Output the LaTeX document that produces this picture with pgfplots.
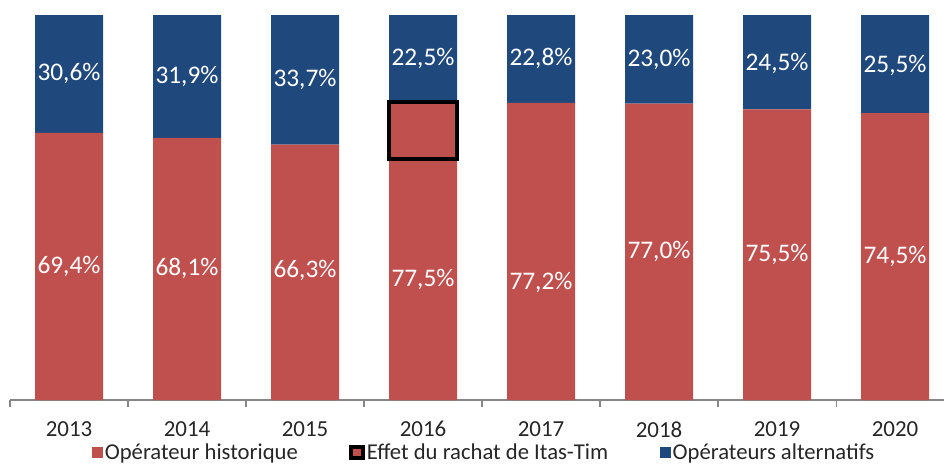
\documentclass[border=0pt]{standalone}
\usepackage{fontspec}
\setmainfont{Carlito}
\usepackage{pgfplots}
\pgfplotsset{compat=1.18}
\definecolor{cred}{RGB}{192,80,77}
\definecolor{cblue}{RGB}{31,73,125}
\definecolor{caxis}{RGB}{134,134,134}
\pgfplotsset{
  myleg/.style={legend image code/.code={\path[##1] (0pt,-4.1pt) rectangle (8.25pt,4.1pt);}},
  myleggb/.style={legend image code/.code={\path[##1] (-0.5pt,-4.4pt) rectangle (8.3pt,4.4pt);}},
  common/.style={scale only axis, width=700.5pt, height=288.75pt,
    xmin=-0.5, xmax=7.415, ymin=0, ymax=100, clip=false},
}
\begin{document}
\begin{tikzpicture}
\useasboundingbox (-7.5pt,-48.75pt) rectangle (700.5pt,300pt);
% main stacked bars
\begin{axis}[common,
  ybar stacked, bar width=51pt,
  axis x line*=bottom, axis y line=none,
  axis line style={caxis, line width=0.8pt},
  xtick={0,...,7},
  xticklabels={2013,2014,2015,2016,2017,2018,2019,2020},
  major tick length=0pt,
  minor xtick={-0.5,0.5,...,6.5},
  minor tick length=5pt,
  tick align=outside,
  minor tick style={caxis, line width=0.8pt},
  xticklabel style={font=\fontsize{17.2}{19}\selectfont, text=black!85, yshift=-12.5pt},
  legend columns=3,
  legend style={draw=none, fill=none, at={(0.5075,-0.136)}, anchor=center,
    font=\fontsize{17}{19}\selectfont, text=black!85,
    nodes={inner sep=1.5pt},
    /tikz/every even column/.append style={column sep=37pt},
    inner sep=0pt},
  legend cell align=left,
]
\addplot[fill=cred, draw=none, forget plot] coordinates {(0,69.4) (1,68.1) (2,66.3) (3,62.5) (4,77.2) (5,77.0) (6,75.5) (7,74.5)};
\addplot[fill=cred, draw=none, forget plot] coordinates {(0,0) (1,0) (2,0) (3,15) (4,0) (5,0) (6,0) (7,0)};
\addplot[fill=cblue, draw=none, forget plot] coordinates {(0,30.6) (1,31.9) (2,33.7) (3,22.5) (4,22.8) (5,23.0) (6,24.5) (7,25.5)};
\addlegendimage{myleg, fill=cred, draw=none}
\addlegendimage{myleggb, fill=cred, draw=black, line width=3pt}
\addlegendimage{myleg, fill=cblue, draw=none}
\legend{Opérateur historique, Effet du rachat de Itas-Tim, Opérateurs alternatifs}
\end{axis}
% effect box
\begin{axis}[common, hide axis, ybar stacked, bar width=51pt]
\addplot[fill=none, draw=none] coordinates {(3,62.5)};
\addplot[fill=cred, draw=black, line width=3pt] coordinates {(3,15)};
\end{axis}
% labels
\begin{axis}[common, hide axis]
\addplot[draw=none, no markers, nodes near coords, point meta=explicit symbolic,
  every node near coord/.append style={anchor=center, text=white, font=\fontsize{19}{21}\selectfont}]
  coordinates {(0,34.7) [69,4\%] (1,34.05) [68,1\%] (2,33.6) [66,3\%] (3,31.25) [77,5\%]
   (4,30.4) [77,2\%] (5,38.5) [77,0\%] (6,37.75) [75,5\%] (7,37.25) [74,5\%]};
\addplot[draw=none, no markers, nodes near coords, point meta=explicit symbolic,
  every node near coord/.append style={anchor=center, text=white, font=\fontsize{19}{21}\selectfont}]
  coordinates {(0,84.7) [30,6\%] (1,84.05) [31,9\%] (2,83.15) [33,7\%] (3,88.75) [22,5\%]
   (4,88.6) [22,8\%] (5,88.5) [23,0\%] (6,87.5) [24,5\%] (7,87.0) [25,5\%]};
\end{axis}
\end{tikzpicture}
\end{document}
